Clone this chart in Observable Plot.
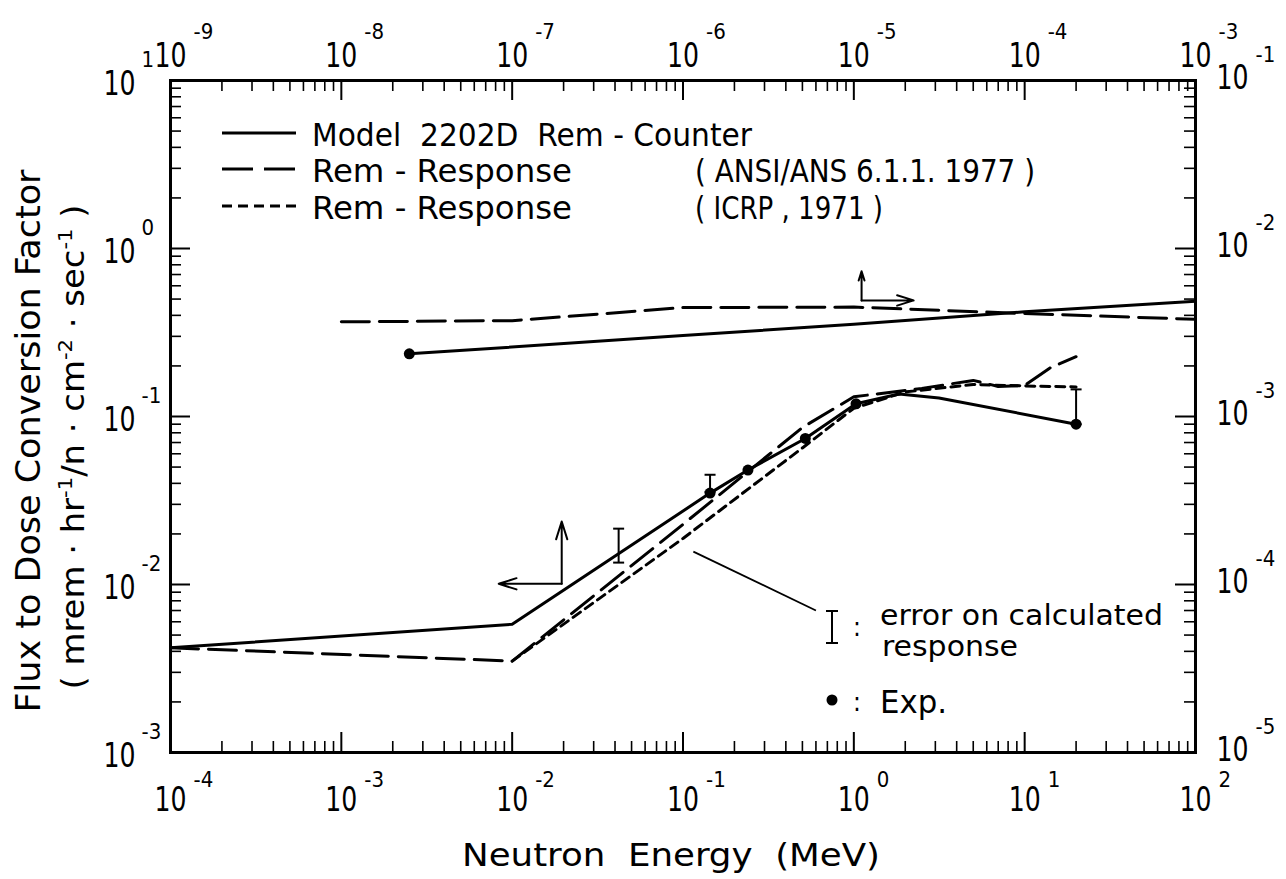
<!DOCTYPE html>
<html><head><meta charset="utf-8">
<script src="https://cdn.jsdelivr.net/npm/d3@7"></script>
<script src="https://cdn.jsdelivr.net/npm/@observablehq/plot@0.6"></script>
<style>
body{margin:0;background:#fff;}
#chart{position:relative;width:1286px;height:879px;}
</style></head><body><div id="chart"></div>
<script>
const FONT = "'Liberation Sans Narrow','DejaVu Sans Condensed',sans-serif";

// ---- axis decades ----
const bottomExponents = [-4, -3, -2, -1, 0, 1, 2];   // Neutron energy (MeV)
const leftExponents   = [-3, -2, -1, 0, 1];          // flux-to-dose factor
const topExponents    = [-9, -8, -7, -6, -5, -4, -3];
const rightExponents  = [-5, -4, -3, -2, -1];
const TOP_SHIFT = 5;    // decades: top axis = bottom axis x 10^-5
const RIGHT_SHIFT = 2;  // decades: right axis = left axis x 10^-2
const minorMultipliers = [2, 3, 4, 5, 6, 7, 8, 9];

// ---- lower curves (bottom / left axes) ----
const counterEnergy = [1e-4, 1e-2, 0.144, 0.24, 0.52, 1.03, 1.84, 3.15, 20];
const counterValue  = [0.0042, 0.0058, 0.035, 0.048, 0.074, 0.119, 0.136, 0.129, 0.090];
const ansiEnergy = [1e-4, 1e-2, 0.1, 0.5, 1, 2.5, 5, 7, 10, 14, 20];
const ansiValue  = [0.0042, 0.0035, 0.0228, 0.086, 0.131, 0.147, 0.164, 0.151, 0.153, 0.194, 0.227];
const icrpEnergy = [1e-2, 0.1, 0.5, 1, 2, 5, 10, 20];
const icrpValue  = [0.0035, 0.0188, 0.065, 0.112, 0.14, 0.155, 0.152, 0.15];
const expEnergy = [0.144, 0.24, 0.52, 1.03, 20];
const expValue  = [0.035, 0.048, 0.074, 0.119, 0.090];
const errEnergy = [0.042, 0.144, 20];
const errLow    = [0.0135, 0.0356, 0.090];
const errHigh   = [0.0215, 0.045, 0.145];

// ---- upper curves (top / right axes) ----
const counterThermalEnergy = [2.5e-8, 1e-6, 1e-5, 1e-4, 1e-3];
const counterThermalValue  = [2.36e-3, 3.03e-3, 3.54e-3, 4.2e-3, 4.86e-3];
const ansiThermalEnergy = [1e-8, 1e-7, 1e-6, 1e-5, 1e-4, 1e-3];
const ansiThermalValue  = [3.66e-3, 3.72e-3, 4.45e-3, 4.48e-3, 4.1e-3, 3.79e-3];
const expThermalEnergy = [2.5e-8];
const expThermalValue  = [2.36e-3];

// ---- annotation arrows (bottom/left units) ----
const arrowFromE = [0.0195, 0.0195, 1.11, 1.11];
const arrowFromV = [0.0101, 0.0101, 0.491, 0.491];
const arrowToE   = [0.0195, 0.00834, 1.11, 2.24];
const arrowToV   = [0.0237, 0.0101, 0.732, 0.491];
const leaderE = [0.115, 0.6];
const leaderV = [0.0157, 0.007];

// ---- build tables ----
const zip = (xs, ys) => xs.map((x, i) => ({x, y: ys[i]}));
const counter = zip(counterEnergy, counterValue);
const ansi = zip(ansiEnergy, ansiValue);
const icrp = zip(icrpEnergy, icrpValue);
const exp = zip(expEnergy, expValue);
const errs = errEnergy.map((x, i) => ({x, lo: errLow[i], hi: errHigh[i]}));
const toPrimary = (xs, ys) => xs.map((x, i) => ({x: x * 10 ** TOP_SHIFT, y: ys[i] * 10 ** RIGHT_SHIFT}));
const counterThermal = toPrimary(counterThermalEnergy, counterThermalValue);
const ansiThermal = toPrimary(ansiThermalEnergy, ansiThermalValue);
const expThermal = toPrimary(expThermalEnergy, expThermalValue);
const arrows = arrowFromE.map((x, i) => ({x1: x, y1: arrowFromV[i], x2: arrowToE[i], y2: arrowToV[i]}));
const leader = [{x1: leaderE[0], y1: leaderV[0], x2: leaderE[1], y2: leaderV[1]}];

const majorX = bottomExponents.map(e => 10 ** e);
const minorX = bottomExponents.slice(0, -1).flatMap(e => minorMultipliers.map(m => m * 10 ** e));
const majorY = leftExponents.map(e => 10 ** e);
const minorY = leftExponents.slice(0, -1).flatMap(e => minorMultipliers.map(m => m * 10 ** e));

const W = 1286, H = 879, ML = 170, MR = 91, MT = 80, MB = 127;
const PW = W - ML - MR, PH = H - MT - MB;
const MAJ = 20, MIN = 11;
const expText = e => (e < 0 ? "-" + (-e) : String(e));

const capSymbol = {draw(ctx, size) { const r = Math.sqrt(size / Math.PI); ctx.moveTo(-r, 0); ctx.lineTo(r, 0); }};

const lineStyle = {stroke: "black", strokeWidth: 3, strokeLinejoin: "round"};
const labelStyle = {fontFamily: FONT, fill: "black"};
const TEN = 34, EXPO = 22;

const svg = Plot.plot({
  width: W, height: H,
  marginLeft: ML, marginRight: MR, marginTop: MT, marginBottom: MB,
  style: {fontFamily: FONT, background: "white", color: "black"},
  x: {type: "log", domain: [1e-4, 1e2], axis: null},
  y: {type: "log", domain: [1e-3, 1e1], axis: null},
  marks: [
    // ticks, inward on all four sides
    Plot.tickX(majorX, {x: d => d, insetTop: PH - MAJ, strokeWidth: 2}),
    Plot.tickX(minorX, {x: d => d, insetTop: PH - MIN, strokeWidth: 1.6}),
    Plot.tickX(majorX, {x: d => d, insetBottom: PH - MAJ, strokeWidth: 2}),
    Plot.tickX(minorX, {x: d => d, insetBottom: PH - MIN, strokeWidth: 1.6}),
    Plot.tickY(majorY, {y: d => d, insetRight: PW - MAJ, strokeWidth: 2}),
    Plot.tickY(minorY, {y: d => d, insetRight: PW - MIN, strokeWidth: 1.6}),
    Plot.tickY(majorY, {y: d => d, insetLeft: PW - MAJ, strokeWidth: 2}),
    Plot.tickY(minorY, {y: d => d, insetLeft: PW - MIN, strokeWidth: 1.6}),
    Plot.frame({stroke: "black", strokeWidth: 3}),

    // tick labels: bottom
    Plot.text(bottomExponents, {x: d => 10 ** d, text: () => "10", frameAnchor: "bottom", lineAnchor: "bottom", dy: 58, fontSize: TEN, ...labelStyle}),
    Plot.text(bottomExponents, {x: d => 10 ** d, text: expText, frameAnchor: "bottom", lineAnchor: "bottom", textAnchor: "start", dx: 23, dy: 34, fontSize: EXPO, ...labelStyle}),
    // top
    Plot.text(topExponents, {x: d => 10 ** (d + TOP_SHIFT), text: () => "10", frameAnchor: "top", lineAnchor: "bottom", dy: -14, fontSize: TEN, ...labelStyle}),
    Plot.text(topExponents, {x: d => 10 ** (d + TOP_SHIFT), text: expText, frameAnchor: "top", lineAnchor: "bottom", textAnchor: "start", dx: 23, dy: -42, fontSize: EXPO, ...labelStyle}),
    // left
    Plot.text(leftExponents, {y: d => 10 ** d, text: () => "10", frameAnchor: "left", lineAnchor: "bottom", textAnchor: "end", dx: -35, dy: 14, fontSize: TEN, ...labelStyle}),
    Plot.text(leftExponents, {y: d => 10 ** d, text: expText, frameAnchor: "left", lineAnchor: "bottom", textAnchor: "start", dx: -29, dy: -14, fontSize: EXPO, ...labelStyle}),
    // right
    Plot.text(rightExponents, {y: d => 10 ** (d + RIGHT_SHIFT), text: () => "10", frameAnchor: "right", lineAnchor: "bottom", textAnchor: "start", dx: 21, dy: 8, fontSize: TEN, ...labelStyle}),
    Plot.text(rightExponents, {y: d => 10 ** (d + RIGHT_SHIFT), text: expText, frameAnchor: "right", lineAnchor: "bottom", textAnchor: "start", dx: 60, dy: -19, fontSize: EXPO, ...labelStyle}),

    // curves
    Plot.line(ansiThermal, {x: "x", y: "y", ...lineStyle, strokeDasharray: "28,10"}),
    Plot.line(counterThermal, {x: "x", y: "y", ...lineStyle}),
    Plot.line(ansi, {x: "x", y: "y", ...lineStyle, strokeDasharray: "28,10"}),
    Plot.line(icrp, {x: "x", y: "y", ...lineStyle, strokeDasharray: "9,6"}),
    Plot.line(counter, {x: "x", y: "y", ...lineStyle}),
    Plot.dot(exp, {x: "x", y: "y", r: 5.5, fill: "black"}),
    Plot.dot(expThermal, {x: "x", y: "y", r: 5.5, fill: "black"}),

    // error bars
    Plot.ruleX(errs, {x: "x", y1: "lo", y2: "hi", stroke: "black", strokeWidth: 2}),
    Plot.dot(errs, {x: "x", y: "lo", symbol: capSymbol, r: 5.5, stroke: "black", strokeWidth: 2}),
    Plot.dot(errs, {x: "x", y: "hi", symbol: capSymbol, r: 5.5, stroke: "black", strokeWidth: 2}),

    // arrows and leader line
    Plot.arrow(arrows, {x1: "x1", y1: "y1", x2: "x2", y2: "y2", stroke: "black", strokeWidth: 2, headLength: 14, headAngle: 35}),
    Plot.link(leader, {x1: "x1", y1: "y1", x2: "x2", y2: "y2", stroke: "black", strokeWidth: 1.8})
  ]
});

document.getElementById("chart").appendChild(svg);

// narrow the "10" mantissas of the tick labels like the reference lettering
d3.select(svg).selectAll("text").filter(function() { return this.textContent === "10"; })
  .attr("textLength", 32).attr("lengthAdjust", "spacingAndGlyphs");

// ---- legend, key and axis titles (overlay in the same SVG) ----
const s = d3.select(svg);
const g = s.append("g").attr("font-family", FONT).attr("fill", "black").attr("text-anchor", "start");

function txt(x, y, str, size, len) {
  const t = g.append("text").attr("x", x).attr("y", y).attr("font-size", size).attr("text-anchor", "start").text(str);
  if (len) t.attr("textLength", len).attr("lengthAdjust", "spacingAndGlyphs");
  return t;
}
// legend lines
const legendLines = [
  {y: 133, dash: null},
  {y: 169, dash: "31,11"},
  {y: 206, dash: "10,6"}
];
legendLines.forEach(l => {
  const ln = g.append("line").attr("x1", 222).attr("x2", 296).attr("y1", l.y).attr("y2", l.y)
    .attr("stroke", "black").attr("stroke-width", 3);
  if (l.dash) ln.attr("stroke-dasharray", l.dash);
});
txt(312, 146, "Model  2202D  Rem - Counter", 32, 440);
txt(312, 182, "Rem - Response", 32, 260);
txt(695, 182, "( ANSI/ANS 6.1.1. 1977 )", 32, 340);
txt(312, 219, "Rem - Response", 32, 260);
txt(695, 219, "( ICRP , 1971 )", 32, 188);

// key: error bar and experimental point
g.append("path").attr("d", "M832,611V643M826,611H838M826,643H838").attr("stroke", "black").attr("stroke-width", 2).attr("fill", "none");
txt(853, 636, ":", 26);
txt(880, 625, "error on calculated", 28, 283);
txt(882, 656, "response", 28, 136);
g.append("circle").attr("cx", 832).attr("cy", 700).attr("r", 5.5).attr("fill", "black");
txt(853, 711, ":", 26);
txt(880, 713, "Exp.", 32, 67);

// axis titles
txt(462, 866, "Neutron  Energy  (MeV)", 32, 418);
g.append("text").attr("transform", "translate(40,441) rotate(-90)").attr("text-anchor", "middle")
  .attr("font-size", 33).attr("textLength", 543).attr("lengthAdjust", "spacingAndGlyphs")
  .text("Flux to Dose Conversion Factor");
const t2 = g.append("text").attr("transform", "translate(84,447) rotate(-90)").attr("text-anchor", "middle")
  .attr("font-size", 32).attr("textLength", 485).attr("lengthAdjust", "spacingAndGlyphs");
t2.append("tspan").text("( mrem · hr");
t2.append("tspan").attr("dy", -12).attr("font-size", 20).text("-1");
t2.append("tspan").attr("dy", 12).text("/n · cm");
t2.append("tspan").attr("dy", -12).attr("font-size", 20).text("-2");
t2.append("tspan").attr("dy", 12).text(" · sec");
t2.append("tspan").attr("dy", -12).attr("font-size", 20).text("-1");
t2.append("tspan").attr("dy", 12).text(" )");
</script></body></html>
